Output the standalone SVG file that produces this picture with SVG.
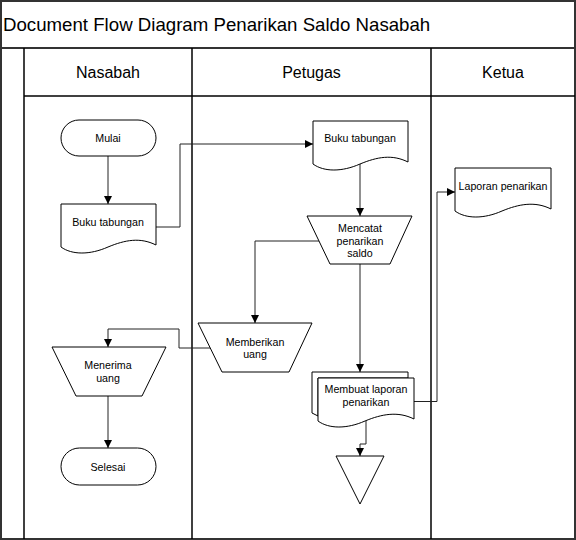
<svg xmlns="http://www.w3.org/2000/svg" width="576" height="540" viewBox="0 0 576 540">
<style>
.frame{fill:none;stroke:#333;stroke-width:2}
.lane{fill:none;stroke:#000;stroke-width:1.5}
.shape{fill:#fff;stroke:#000;stroke-width:1}
.conn{fill:none;stroke:#222;stroke-width:1}
text{font-family:"Liberation Sans",Arial,sans-serif;fill:#000}
.t{font-size:10.67px;text-anchor:middle;dominant-baseline:central}
.h{font-size:16px;text-anchor:middle;dominant-baseline:central}
</style>
<defs>
<marker id="arr" markerUnits="userSpaceOnUse" markerWidth="9" markerHeight="8" refX="8" refY="4" orient="auto">
<path d="M0,0 L8,4 L0,8 Z" fill="#000"/>
</marker>
</defs>
<rect width="576" height="540" fill="#fff"/>
<g id="frame">
<rect class="frame" x="1" y="1" width="574" height="538"/>
<line class="frame" x1="1" y1="48" x2="575" y2="48"/>
<line class="lane" x1="24" y1="96" x2="575" y2="96"/>
<line class="lane" x1="24" y1="48" x2="24" y2="539"/>
<line class="lane" x1="192" y1="48" x2="192" y2="539"/>
<line class="lane" x1="431" y1="48" x2="431" y2="539"/>
<text x="3" y="24" font-size="18.67px" dominant-baseline="central">Document Flow Diagram Penarikan Saldo Nasabah</text>
<text class="h" x="108" y="72">Nasabah</text>
<text class="h" x="311.5" y="72">Petugas</text>
<text class="h" x="503" y="72">Ketua</text>
</g>
<g id="connectors">
<path class="conn" d="M108,156 V204" marker-end="url(#arr)"/>
<path class="conn" d="M156,227 H180 V144 H313" marker-end="url(#arr)"/>
<path class="conn" d="M360,164 V216" marker-end="url(#arr)"/>
<path class="conn" d="M319,241 H255 V323" marker-end="url(#arr)"/>
<path class="conn" d="M210,348 H179 V329 H108 V347" marker-end="url(#arr)"/>
<path class="conn" d="M108,396 V448" marker-end="url(#arr)"/>
<path class="conn" d="M360,264 V372" marker-end="url(#arr)"/>
<path class="conn" d="M414,401.5 H437 V192 H455" marker-end="url(#arr)"/>
<path class="conn" d="M366,421 V444 H360 V456" marker-end="url(#arr)"/>
</g>
<g id="mulai">
<rect class="shape" x="61" y="120" width="95" height="36" rx="18"/>
<text class="t" x="108" y="138">Mulai</text>
</g>
<g id="buku-nasabah">
<path class="shape" d="M61,204 h95 v41 c-16,-8 -31,-5 -48,2 c-18,8 -36,8 -47,0 z"/>
<text class="t" x="108" y="222">Buku tabungan</text>
</g>
<g id="buku-petugas">
<path class="shape" d="M313,121 h95 v41 c-16,-8 -31,-5 -48,2 c-18,8 -36,8 -47,0 z"/>
<text class="t" x="360" y="138">Buku tabungan</text>
</g>
<g id="mencatat">
<path class="shape" d="M307,216 H412 L390,264 H330 Z"/>
<text class="t" x="360" y="228">Mencatat</text>
<text class="t" x="360" y="240.5">penarikan</text>
<text class="t" x="360" y="253">saldo</text>
</g>
<g id="memberikan">
<path class="shape" d="M198,323 H312 L289,372 H222 Z"/>
<text class="t" x="255" y="341.5">Memberikan</text>
<text class="t" x="255" y="354">uang</text>
</g>
<g id="menerima">
<path class="shape" d="M52,347 H166 L142,396 H76 Z"/>
<text class="t" x="108" y="364.5">Menerima</text>
<text class="t" x="108" y="377.5">uang</text>
</g>
<g id="selesai">
<rect class="shape" x="61" y="448" width="95" height="37" rx="18.5"/>
<text class="t" x="108" y="466.5">Selesai</text>
</g>
<g id="membuat-laporan">
<path class="shape" d="M312,372 H408 V378 H318 V416 L312,413 Z"/>
<path class="shape" d="M318,378 h96 v41 c-16,-8 -32,-5 -49,2 c-18,8 -36,8 -47,0 z"/>
<text class="t" x="366" y="389">Membuat laporan</text>
<text class="t" x="366" y="401.5">penarikan</text>
</g>
<g id="laporan-ketua">
<path class="shape" d="M455,168 h96 v41 c-16,-8 -32,-5 -49,2 c-18,8 -36,8 -47,0 z"/>
<text class="t" x="503" y="186">Laporan penarikan</text>
</g>
<g id="arsip">
<path class="shape" d="M336,456 H384 L360,504 Z"/>
</g>
</svg>
